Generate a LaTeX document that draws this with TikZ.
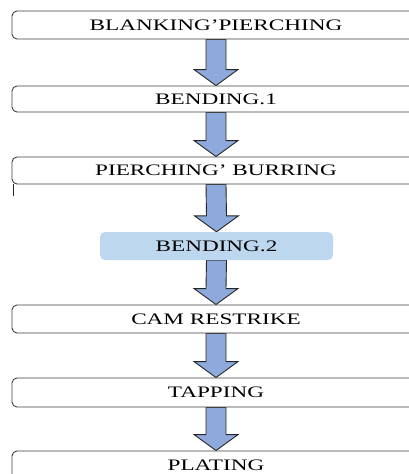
\documentclass[tikz,border=0pt]{standalone}
\usepackage{fontspec}
\setmainfont{Liberation Serif}
\usetikzlibrary{calc}
\definecolor{arrowfill}{HTML}{8EA9DB}
\definecolor{hlfill}{HTML}{BDD7EE}
\newcommand{\wtxt}[1]{\scalebox{1.45}[1]{#1}}
\newcommand{\flowarrow}[2]{%
  \draw[flowarr] ($(#1.south)+(-10,0)$) -- ($(#2.north)+(-10,16)$) -- ($(#2.north)+(-22,16)$)
    -- (#2.north) -- ($(#2.north)+(22,16)$) -- ($(#2.north)+(10,16)$) -- ($(#1.south)+(10,0)$) -- cycle;}
\begin{document}
\begin{tikzpicture}[x=1pt,y=1pt,
  stepbox/.style={draw=black!75, line width=0.9pt, fill=white, rounded corners=5pt,
    minimum width=408pt, inner sep=0pt, font=\fontsize{16}{19}\selectfont},
  hlbox/.style={fill=hlfill, draw=none, rounded corners=5pt, minimum width=233pt,
    minimum height=28pt, inner sep=0pt, font=\fontsize{16}{19}\selectfont},
  flowarr/.style={draw=black!85, line width=0.9pt, fill=arrowfill, line join=miter}]
\useasboundingbox (0,0) rectangle (409,-474);
\clip (0,0) rectangle (409,-474);
\fill[white] (0,0) rectangle (409,-474);
% node positions
\coordinate (c1) at (216,-25);
\coordinate (c2) at (216,-99);
\coordinate (c3) at (216,-170.5);
\coordinate (c4) at (216.5,-246);
\coordinate (c5) at (216,-319);
\coordinate (c6) at (216,-392.5);
\coordinate (c7) at (216,-465);
% invisible placeholders to define anchors for arrows first
\path node[stepbox, draw=none, fill=none, minimum height=28pt] (p1) at (c1) {}
      node[stepbox, draw=none, fill=none, minimum height=26pt] (p2) at (c2) {}
      node[stepbox, draw=none, fill=none, minimum height=27pt] (p3) at (c3) {}
      node[hlbox, fill=none] (p4) at (c4) {}
      node[stepbox, draw=none, fill=none, minimum height=28pt] (p5) at (c5) {}
      node[stepbox, draw=none, fill=none, minimum height=29pt] (p6) at (c6) {}
      node[stepbox, draw=none, fill=none, minimum height=28pt] (p7) at (c7) {};
\flowarrow{p1}{p2}
\flowarrow{p2}{p3}
\flowarrow{p3}{p4}
\flowarrow{p4}{p5}
\flowarrow{p5}{p6}
\flowarrow{p6}{p7}
% boxes
\node[stepbox, minimum height=28pt] (n1) at (c1) {\wtxt{BLANKING’PIERCHING}};
\node[stepbox, minimum height=26pt] (n2) at (c2) {\wtxt{BENDING.1}};
\node[stepbox, minimum height=27pt] (n3) at (c3) {\wtxt{PIERCHING’ BURRING}};
\node[hlbox] (n4) at (c4) {\wtxt{BENDING.2}};
\node[stepbox, minimum height=28pt] (n5) at (c5) {\wtxt{CAM RESTRIKE}};
\node[stepbox, minimum height=29pt] (n6) at (c6) {\wtxt{TAPPING}};
\node[stepbox, minimum height=28pt] (n7) at (c7) {\wtxt{PLATING}};
% small stray stroke below the third box
\coordinate (s1) at ($(n3.south west)+(1.5,0)$);
\coordinate (s2) at ($(n3.south west)+(1.5,-12)$);
\draw[black!85, line width=1pt] (s1) -- (s2);
\end{tikzpicture}
\end{document}
